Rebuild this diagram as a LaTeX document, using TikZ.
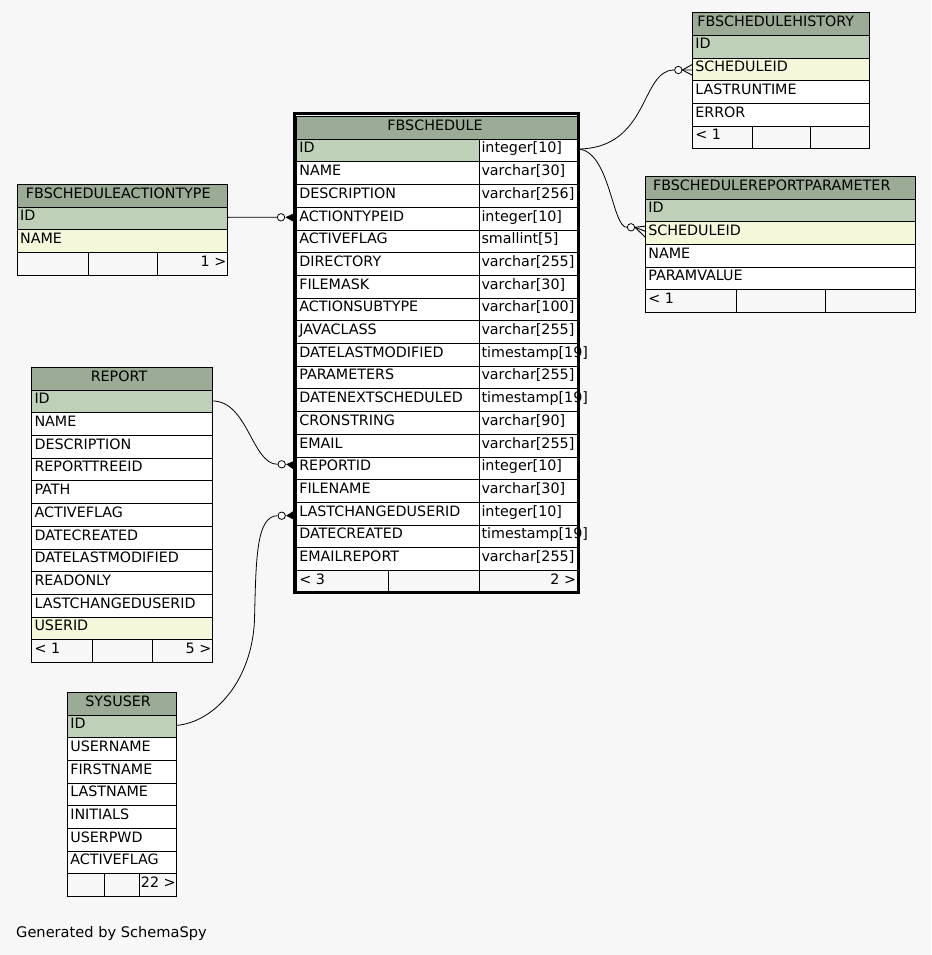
\documentclass[tikz,border=0pt]{standalone}
\usepackage{fontspec}
\setmainfont{DejaVu Sans}
\usetikzlibrary{calc}
\definecolor{bgc}{HTML}{F7F7F7}
\definecolor{hdc}{HTML}{9BAB96}
\definecolor{pkc}{HTML}{BED1B8}
\definecolor{fkc}{HTML}{F4F7DA}
\newcommand\tabfont{\fontsize{14.3}{17}\selectfont}
\def\rowh{22.7}
\tikzset{
  cellbox/.style={draw=black, line width=0.9pt, anchor=north west, minimum height=\rowh pt, inner sep=0pt, outer sep=0pt},
  celltxt/.style={anchor=base west, inner sep=0pt, outer sep=0pt, font=\tabfont},
  conn/.style={draw=black, line width=0.8pt},
  odot/.style={circle, draw=black, fill=white, line width=0.8pt, minimum size=7.4pt, inner sep=0pt},
  crowline/.style={draw=black, line width=0.9pt},
  crowfill/.style={fill=black, draw=black, line width=0.6pt}
}
% prefix, left, width, top, header, rows (name/colour), header x-offset
\newcommand\erdtable[7]{%
  \node[cellbox, fill=hdc, minimum width=#3] (#1-h) at (#2,#4) {};
  \node[celltxt, anchor=base] (#1-ht) at ($(#1-h.north)+(#7,13.7)$) {#5};
  \foreach \nm/\cl [count=\i] in {#6} {
    \node[cellbox, fill=\cl, minimum width=#3] (#1-\i) at (#2,#4+\i*\rowh) {};
    \node[celltxt] (#1-\i t) at ($(#1-\i.north west)+(2.8,13.7)$) {\nm};
  }
}
% prefix, x1, x2, x3, x4, top, height, left text, right text
\newcommand\erdfoot[9]{%
  \node[cellbox, fill=bgc, minimum width={#3-#2}, minimum height=#7] (#1-fa) at (#2,#6) {};
  \node[cellbox, fill=bgc, minimum width={#4-#3}, minimum height=#7] (#1-fb) at (#3,#6) {};
  \node[cellbox, fill=bgc, minimum width={#5-#4}, minimum height=#7] (#1-fc) at (#4,#6) {};
  \node[celltxt] (#1-fat) at ($(#1-fa.north west)+(2.8,13.7)$) {#8};
  \node[celltxt, anchor=base east] (#1-fct) at ($(#1-fc.north east)+(-1,13.7)$) {#9};
}
\begin{document}
\begin{tikzpicture}[x=1pt, y=-1pt]
\fill[bgc] (0,0) rectangle (931,955);
\useasboundingbox (0,0) rectangle (931,955);

% FBSCHEDULE (focused table)
\node[draw=black, line width=2.6pt, anchor=north west, minimum width=284.1, minimum height=479.4, inner sep=0pt, outer sep=0pt] (fbs-frame) at (294.2,113.3) {};
\node[cellbox, fill=hdc, minimum width=280.5] (fbs-h) at (296.5,116.5) {};
\node[celltxt, anchor=base] (fbs-ht) at (435,130.2) {FBSCHEDULE};
\foreach \nm/\ty/\cl [count=\i] in {ID/integer[10]/pkc, NAME/varchar[30]/white, DESCRIPTION/varchar[256]/white, ACTIONTYPEID/integer[10]/white, ACTIVEFLAG/smallint[5]/white, DIRECTORY/varchar[255]/white, FILEMASK/varchar[30]/white, ACTIONSUBTYPE/varchar[100]/white, JAVACLASS/varchar[255]/white, DATELASTMODIFIED/timestamp[19]/white, PARAMETERS/varchar[255]/white, DATENEXTSCHEDULED/timestamp[19]/white, CRONSTRING/varchar[90]/white, EMAIL/varchar[255]/white, REPORTID/integer[10]/white, FILENAME/varchar[30]/white, LASTCHANGEDUSERID/integer[10]/white, DATECREATED/timestamp[19]/white, EMAILREPORT/varchar[255]/white} {
  \node[cellbox, fill=\cl, minimum width=182.8] (fbs-\i) at (296.5,139.2+\i*\rowh-\rowh) {};
  \node[cellbox, fill=white, minimum width=97.7] (fbs-t\i) at (479.3,139.2+\i*\rowh-\rowh) {};
  \node[celltxt] (fbs-\i n) at ($(fbs-\i.north west)+(2.8,13.7)$) {\nm};
  \node[celltxt] (fbs-t\i n) at ($(fbs-t\i.north west)+(2.2,13.7)$) {\ty};
}
\erdfoot{fbs}{296.5}{388.3}{479.3}{577}{570.5}{20.5}{< 3}{2 >}

% FBSCHEDULEHISTORY
\erdtable{hist}{692.5}{176.5}{12.6}{FBSCHEDULEHISTORY}{ID/pkc, SCHEDULEID/fkc, LASTRUNTIME/white, ERROR/white}{-5}
\erdfoot{hist}{692.5}{752.7}{810.7}{869}{126.1}{\rowh}{< 1}{}

% FBSCHEDULEREPORTPARAMETER
\erdtable{param}{645.5}{269.5}{176.3}{FBSCHEDULEREPORTPARAMETER}{ID/pkc, SCHEDULEID/fkc, NAME/white, PARAMVALUE/white}{-8.5}
\erdfoot{param}{645.5}{736}{825.7}{915}{289.8}{\rowh}{< 1}{}

% FBSCHEDULEACTIONTYPE
\erdtable{atype}{17.3}{210}{184.3}{FBSCHEDULEACTIONTYPE}{ID/pkc, NAME/fkc}{-4}
\erdfoot{atype}{17.3}{88.3}{157.3}{227.3}{252.4}{\rowh}{}{1 >}

% REPORT
\erdtable{rep}{31.7}{180.6}{367.4}{REPORT}{ID/pkc, NAME/white, DESCRIPTION/white, REPORTTREEID/white, PATH/white, ACTIVEFLAG/white, DATECREATED/white, DATELASTMODIFIED/white, READONLY/white, LASTCHANGEDUSERID/white, USERID/fkc}{-3}
\erdfoot{rep}{31.7}{92.3}{152.3}{212.3}{639.8}{\rowh}{< 1}{5 >}

% SYSUSER
\erdtable{sys}{67.5}{109.2}{692.3}{SYSUSER}{ID/pkc, USERNAME/white, FIRSTNAME/white, LASTNAME/white, INITIALS/white, USERPWD/white, ACTIVEFLAG/white}{-4}
\erdfoot{sys}{67.5}{104.3}{139}{176.7}{873.9}{\rowh}{}{22 >}

% optional-circles
\node[odot] (c1) at (678.3,70) {};
\node[odot] (c2) at (631,227.3) {};
\node[odot] (c3) at (281,217.3) {};
\node[odot] (c4) at (281.7,464.3) {};
\node[odot] (c5) at (281.7,515.7) {};

% connectors
\draw[conn] ($(fbs-t1.east)+(0,-1.5)$) .. controls (650,149) and (640,70) .. (c1.west);
\draw[conn] ($(fbs-t1.east)+(0,-1.5)$) .. controls (610,149) and (612,228) .. (c2.west);
\draw[conn] ($(atype-1.east)+(0,-1)$) -- (c3.west);
\draw[conn] ($(rep-1.east)+(0,-0.5)$) .. controls (248,401) and (252,464.3) .. (c4.west);
\draw[conn] ($(sys-1.east)+(0,-1)$) .. controls (215,722) and (252,680) .. (254.5,620)
  .. controls (256,560) and (256,515.7) .. (c5.west);

% crow's feet
\draw[crowline] (c1.east) -- ($(hist-2.west)+(0,-5)$);
\draw[crowline] (c1.east) -- ($(hist-2.west)+(0,0.6)$);
\draw[crowline] (c1.east) -- ($(hist-2.west)+(0,6)$);
\draw[crowline] (c2.east) -- ($(param-2.west)+(0.5,-7)$);
\draw[crowline] (c2.east) -- ($(param-2.west)+(0.5,-1.5)$);
\draw[crowline] (c2.east) -- ($(param-2.west)+(-0.5,4)$);
\filldraw[crowfill] ($(c3.east)+(1,0)$) -- ($(fbs-4.west)+(-2.5,-5)$) -- ($(fbs-4.west)+(-2.5,3)$) -- cycle;
\filldraw[crowfill] ($(c4.east)+(1,0)$) -- ($(fbs-15.west)+(-2.5,-7)$) -- ($(fbs-15.west)+(-2.5,1)$) -- cycle;
\filldraw[crowfill] ($(c5.east)+(1,0)$) -- ($(fbs-17.west)+(-2.5,-2.75)$) -- ($(fbs-17.west)+(-2.5,5.75)$) -- cycle;

\node[anchor=base west, inner sep=0pt, font=\fontsize{14.6}{18}\selectfont] (gen) at (16,937) {Generated by SchemaSpy};
\end{tikzpicture}
\end{document}
